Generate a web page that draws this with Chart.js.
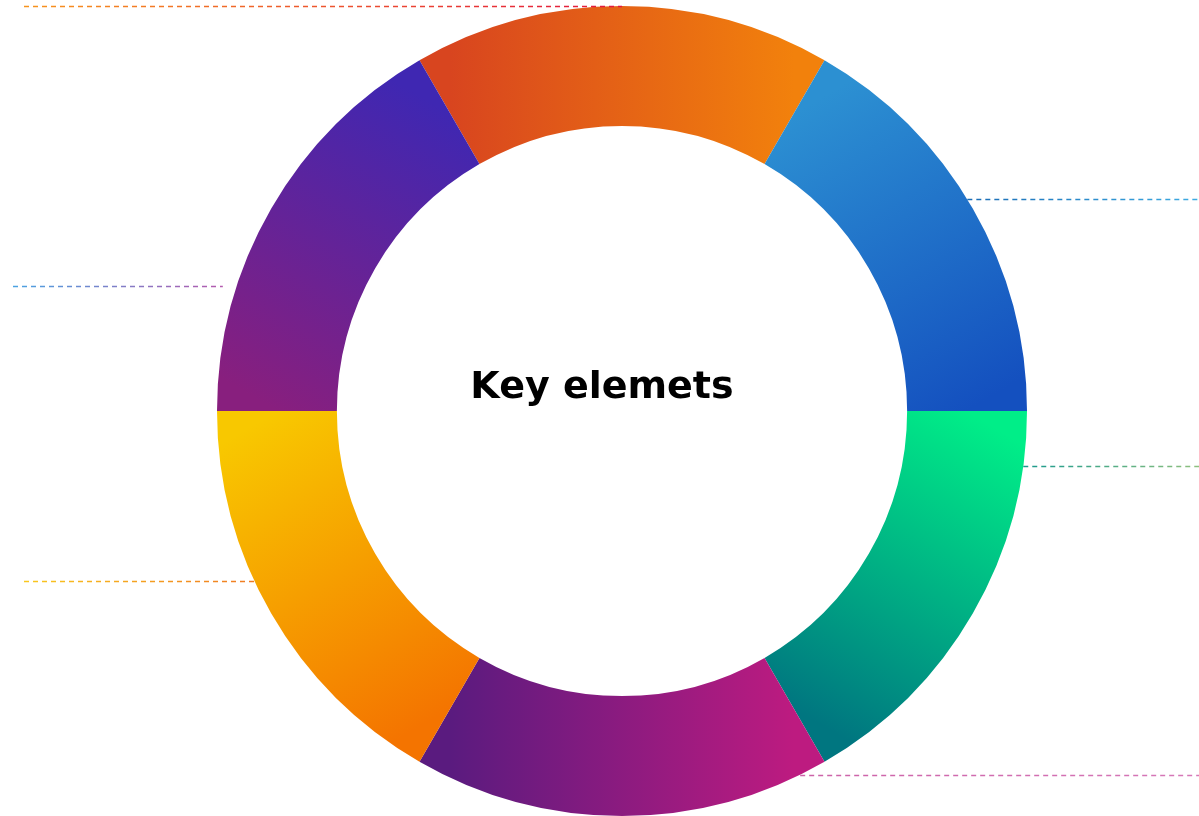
<!DOCTYPE html>
<html>
<head>
<meta charset="utf-8">
<title>Key elemets</title>
<script src="https://cdn.jsdelivr.net/npm/chart.js@4.4.1/dist/chart.umd.min.js"></script>
<style>
  html, body { margin: 0; padding: 0; background: #fff; }
  #wrap { width: 1199px; height: 816px; position: relative; }
</style>
</head>
<body>
<div id="wrap"><canvas id="myChart"></canvas></div>
<script>
// data
let labels = ["Element 1", "Element 2", "Element 3", "Element 4", "Element 5", "Element 6"];
let values = [1, 1, 1, 1, 1, 1];
let centerTitle = "Key elemets";

// gradient colours per segment (start -> end, clockwise from top)
let segFrom = ["#d8451f", "#2c90d2", "#00ee88", "#bd1b80", "#f47400", "#881f7e"];
let segTo   = ["#f2810c", "#1450bf", "#007680", "#5a1b7f", "#f8c800", "#3f27b2"];

// dashed leader lines
let leaders = [
  { index: 0, angle: 0,     side: "left",  gap: 0,  edge: 24,  from: "#f7941d", to: "#e3173f" },
  { index: 1, angle: 58.5,  side: "right", gap: 0,  edge: 0,   from: "#1a6cb5", to: "#3dabe2" },
  { index: 2, angle: 97.8,  side: "right", gap: 0,  edge: 0,   from: "#1a9a8e", to: "#8fc07e" },
  { index: 3, angle: 153.9, side: "right", gap: 0,  edge: 0,   from: "#cc62a8", to: "#d678b8" },
  { index: 4, angle: 245.2, side: "left",  gap: 0,  edge: 24,  from: "#f9c81e", to: "#f07a22" },
  { index: 5, angle: 288,   side: "left",  gap: 14, edge: 13,  from: "#4aa3e2", to: "#b55aae" }
];

const ROTATION = -30;

function segGradient(context) {
  const chart = context.chart;
  const area = chart.chartArea;
  const i = context.dataIndex;
  if (!area) return segFrom[i];
  const cx = (area.left + area.right) / 2;
  const cy = (area.top + area.bottom) / 2;
  const R = Math.min(area.width, area.height) / 2;
  const r = R * 0.85;
  const total = values.reduce((a, b) => a + b, 0);
  let before = 0;
  for (let k = 0; k < i; k++) before += values[k];
  const a0 = (ROTATION + before / total * 360) * Math.PI / 180;
  const a1 = (ROTATION + (before + values[i]) / total * 360) * Math.PI / 180;
  const g = chart.ctx.createLinearGradient(
    cx + r * Math.sin(a0), cy - r * Math.cos(a0),
    cx + r * Math.sin(a1), cy - r * Math.cos(a1));
  g.addColorStop(0, segFrom[i]);
  g.addColorStop(1, segTo[i]);
  return g;
}

const leaderPlugin = {
  id: "leaders",
  afterDatasetsDraw(chart) {
    const meta = chart.getDatasetMeta(0);
    const ctx = chart.ctx;
    ctx.save();
    ctx.lineWidth = 1.5;
    ctx.setLineDash([5, 4]);
    leaders.forEach(function (l) {
      const arc = meta.data[l.index];
      const a = l.angle * Math.PI / 180;
      const px = arc.x + arc.outerRadius * Math.sin(a);
      const py = Math.round(arc.y - arc.outerRadius * Math.cos(a)) + 0.5;
      let x0, x1;
      if (l.side === "left") {
        x0 = l.edge;
        x1 = px - l.gap;
      } else {
        x0 = px + l.gap;
        x1 = chart.width - l.edge;
      }
      const g = ctx.createLinearGradient(x0, 0, x1, 0);
      g.addColorStop(0, l.from);
      g.addColorStop(1, l.to);
      ctx.strokeStyle = g;
      ctx.beginPath();
      ctx.moveTo(x0, py);
      ctx.lineTo(x1, py);
      ctx.stroke();
    });
    ctx.restore();
  }
};

const centerText = {
  id: "centerText",
  afterDraw(chart) {
    const meta = chart.getDatasetMeta(0);
    const arc = meta.data[0];
    const ctx = chart.ctx;
    ctx.save();
    ctx.font = 'bold 38px "DejaVu Sans"';
    ctx.fillStyle = "#000";
    ctx.textAlign = "center";
    ctx.textBaseline = "alphabetic";
    ctx.fillText(centerTitle, arc.x - 20, arc.y - 13);
    ctx.restore();
  }
};

const chart = new Chart(document.getElementById("myChart"), {
  type: "doughnut",
  data: {
    labels: labels,
    datasets: [{
      data: values,
      backgroundColor: segGradient,
      borderWidth: 0,
      hoverOffset: 0
    }]
  },
  options: {
    responsive: true,
    maintainAspectRatio: false,
    animation: false,
    cutout: "70.4%",
    rotation: ROTATION,
    layout: { padding: { left: 45, right: 0, top: 6, bottom: 0 } },
    plugins: {
      legend: { display: false },
      tooltip: { enabled: false }
    }
  },
  plugins: [leaderPlugin, centerText]
});
</script>
</body>
</html>
